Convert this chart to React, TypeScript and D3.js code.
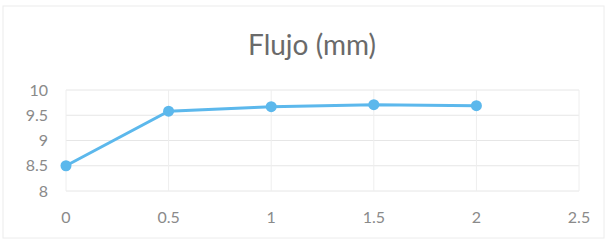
import React from 'react';
import * as d3 from 'd3';

const xValues = [0, 0.5, 1, 1.5, 2];
const flujo = [8.5, 9.58, 9.67, 9.71, 9.69];
const xTicks = [0, 0.5, 1, 1.5, 2, 2.5];
const yTicks = [8, 8.5, 9, 9.5, 10];
const title = 'Flujo (mm)';

const W = 607;
const H = 242;
const margin = { top: 90, right: 28, bottom: 51, left: 66 };

const App = () => {
  const x = d3.scaleLinear().domain([0, 2.5]).range([margin.left, W - margin.right]);
  const y = d3.scaleLinear().domain([8, 10]).range([H - margin.bottom, margin.top]);

  const line = d3
    .line<number>()
    .x((d, i) => x(xValues[i]))
    .y((d) => y(d));

  const font = 'Lato, "Open Sans", sans-serif';
  const grey = '#8a8a8a';
  const blue = '#5cb8ec';

  return (
    <svg
      width={W}
      height={H}
      style={{ position: 'absolute', left: 0, top: 0, background: '#fff' }}
    >
      <rect x={3} y={6} width={W - 6} height={H - 10} fill="#fff" stroke="#ececec" />
      <text x={312} y={55} textAnchor="middle" fontFamily={font} fontSize={28} fill="#6a6a6a">
        {title}
      </text>

      {/* rejilla */}
      {yTicks.map((t) => (
        <line key={'h' + t} x1={x(0)} x2={x(2.5)} y1={y(t)} y2={y(t)} stroke="#e6e6e6" />
      ))}
      {xTicks.map((t) => (
        <line key={'v' + t} x1={x(t)} x2={x(t)} y1={y(8)} y2={y(10)} stroke="#eeeeee" />
      ))}

      {/* etiquetas */}
      {yTicks.map((t) => (
        <text
          key={'yl' + t}
          x={48}
          y={y(t)}
          dy="0.35em"
          textAnchor="end"
          fontFamily={font}
          fontSize={16}
          fill={grey}
        >
          {t}
        </text>
      ))}
      {xTicks.map((t) => (
        <text
          key={'xl' + t}
          x={x(t)}
          y={217}
          dy="0.35em"
          textAnchor="middle"
          fontFamily={font}
          fontSize={16}
          fill={grey}
        >
          {t}
        </text>
      ))}

      <path d={line(flujo) ?? ''} fill="none" stroke={blue} strokeWidth={3} />
      {flujo.map((v, i) => (
        <circle key={i} cx={x(xValues[i])} cy={y(v)} r={5.5} fill={blue} />
      ))}
    </svg>
  );
};

export default App;
